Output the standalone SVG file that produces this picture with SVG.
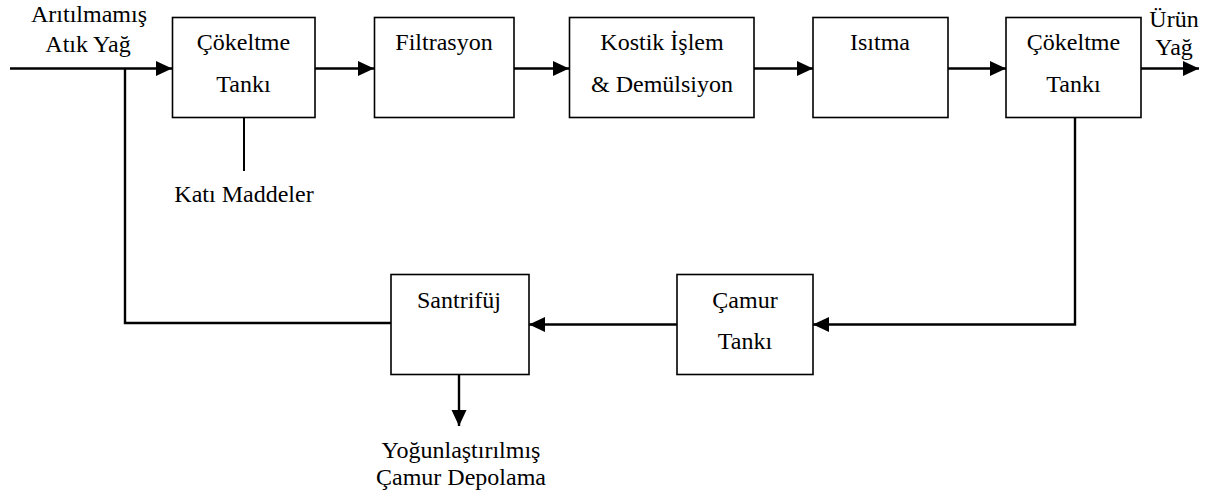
<svg xmlns="http://www.w3.org/2000/svg" width="1221" height="497" viewBox="0 0 1221 497">
  <style>
    .box { fill: #fff; stroke: #000; stroke-width: 1.6; }
    .lbl { font-family: 'Liberation Serif', 'Times New Roman', serif; font-size: 24px; fill: #000; text-anchor: middle; }
    .flow { fill: none; stroke: #000; stroke-width: 2.4; }
    .thin { fill: none; stroke: #000; stroke-width: 2; }
  </style>
  <defs>
    <marker id="arrow" viewBox="0 0 16 16" refX="16" refY="8" markerWidth="16" markerHeight="16" markerUnits="userSpaceOnUse" orient="auto">
      <path d="M0,0.5 L16,8 L0,15.5 Z" fill="#000"/>
    </marker>
  </defs>
  <rect width="1221" height="497" fill="#fff"/>

  <!-- connectors -->
  <g id="connectors">
    <line class="flow" x1="10" y1="68.5" x2="172" y2="68.5" marker-end="url(#arrow)"/>
    <line class="flow" x1="315" y1="68.5" x2="374" y2="68.5" marker-end="url(#arrow)"/>
    <line class="flow" x1="514" y1="68.5" x2="569" y2="68.5" marker-end="url(#arrow)"/>
    <line class="flow" x1="754" y1="68.5" x2="813" y2="68.5" marker-end="url(#arrow)"/>
    <line class="flow" x1="948" y1="68.5" x2="1006" y2="68.5" marker-end="url(#arrow)"/>
    <line class="flow" x1="1141" y1="68.5" x2="1199" y2="68.5" marker-end="url(#arrow)"/>
    <!-- solids out of the first settling tank -->
    <line class="thin" x1="244" y1="117" x2="244" y2="171"/>
    <!-- sludge loop from the second settling tank -->
    <polyline class="flow" points="1075,117 1075,324.5 813,324.5" marker-end="url(#arrow)"/>
    <line class="flow" x1="677" y1="324.5" x2="529" y2="324.5" marker-end="url(#arrow)"/>
    <!-- centrifuge recycle back to the inlet -->
    <polyline class="flow" points="391,323 125,323 125,68.5"/>
    <!-- concentrated sludge out -->
    <line class="flow" x1="459" y1="374" x2="459" y2="426" marker-end="url(#arrow)"/>
  </g>

  <!-- free labels -->
  <g id="inlet-label">
    <text class="lbl" x="89" y="22">Arıtılmamış</text>
    <text class="lbl" x="88" y="52">Atık Yağ</text>
  </g>
  <g id="outlet-label">
    <text class="lbl" x="1174" y="27">Ürün</text>
    <text class="lbl" x="1174" y="55">Yağ</text>
  </g>
  <g id="solids-label">
    <text class="lbl" x="244" y="202">Katı Maddeler</text>
  </g>
  <g id="storage-label">
    <text class="lbl" x="461" y="458">Yoğunlaştırılmış</text>
    <text class="lbl" x="461" y="485">Çamur Depolama</text>
  </g>

  <!-- process units -->
  <g id="settling-tank-1">
    <rect class="box" x="172.5" y="17.5" width="142.5" height="100"/>
    <text class="lbl" x="243.5" y="50">Çökeltme</text>
    <text class="lbl" x="243.5" y="92">Tankı</text>
  </g>
  <g id="filtration">
    <rect class="box" x="374.5" y="17.5" width="139.5" height="100"/>
    <text class="lbl" x="444" y="50">Filtrasyon</text>
  </g>
  <g id="caustic-treatment">
    <rect class="box" x="569.5" y="17.5" width="184.5" height="100"/>
    <text class="lbl" x="662" y="50">Kostik İşlem</text>
    <text class="lbl" x="662" y="92">&amp; Demülsiyon</text>
  </g>
  <g id="heating">
    <rect class="box" x="813" y="17.5" width="135" height="100"/>
    <text class="lbl" x="880" y="50">Isıtma</text>
  </g>
  <g id="settling-tank-2">
    <rect class="box" x="1006" y="17.5" width="135" height="100"/>
    <text class="lbl" x="1073.5" y="50">Çökeltme</text>
    <text class="lbl" x="1073.5" y="92">Tankı</text>
  </g>
  <g id="sludge-tank">
    <rect class="box" x="677" y="274.5" width="136" height="100"/>
    <text class="lbl" x="745" y="308">Çamur</text>
    <text class="lbl" x="745" y="349">Tankı</text>
  </g>
  <g id="centrifuge">
    <rect class="box" x="391" y="274.5" width="138" height="100"/>
    <text class="lbl" x="459" y="308">Santrifüj</text>
  </g>
</svg>
